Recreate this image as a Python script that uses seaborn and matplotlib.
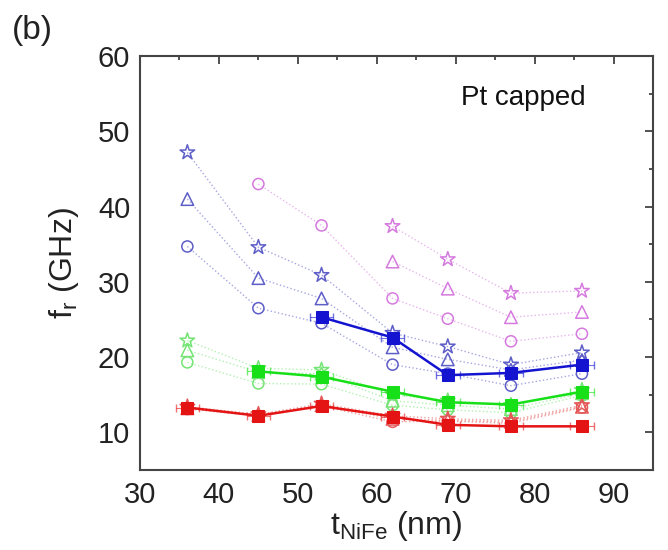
import matplotlib
matplotlib.use("Agg")
import matplotlib.pyplot as plt
import seaborn as sns
import pandas as pd
from matplotlib.ticker import MultipleLocator

sns.set_theme(style="white")
plt.rcParams['font.family'] = ['Liberation Sans', 'DejaVu Sans']

# ---- data ----
x_all = [36, 45, 53, 62, 69, 77, 86]
x_pink = [45, 53, 62, 69, 77, 86]
x_pink2 = [62, 69, 77, 86]
x_blue_solid = [53, 62, 69, 77, 86]
x_green_solid = [45, 53, 62, 69, 77, 86]

blue_star = [47.2, 34.6, 30.9, 23.2, 21.4, 19.0, 20.6]
blue_tri = [41.0, 30.5, 27.8, 21.3, 19.7, 18.3, 19.6]
blue_circ = [34.7, 26.5, 24.5, 19.0, 17.8, 16.2, 17.8]

pink_circ = [43.0, 37.5, 27.8, 25.1, 22.1, 23.1]
pink_star = [37.4, 33.0, 28.5, 28.8]
pink_tri = [32.7, 29.1, 25.3, 26.0]

green_star = [22.2, 18.5, 18.3, 15.0, 14.2, 13.6, 15.6]
green_tri = [20.9, 18.0, 17.8, 14.2, 13.6, 13.1, 15.2]
green_circ = [19.3, 16.5, 16.4, 13.6, 13.0, 12.6, 14.9]

red_star = [13.4, 12.4, 13.8, 12.2, 11.8, 11.6, 13.6]
red_tri = [13.2, 12.3, 13.6, 11.8, 11.6, 11.4, 13.4]
red_circ = [13.1, 12.2, 13.5, 11.4, 11.5, 11.2, 13.3]

blue_solid = [25.3, 22.6, 17.6, 17.9, 19.0]
green_solid = [18.1, 17.4, 15.4, 14.0, 13.7, 15.4]
red_solid = [13.3, 12.2, 13.5, 12.1, 11.0, 10.8, 10.8]
x_err = 1.5

fig = plt.figure(figsize=(6.68, 5.5), dpi=100)
ax = fig.add_axes([0.2096, 0.1455, 0.7679, 0.7525])

c_blue_l = '#5e5ec8'
c_pink = '#d57ade'
c_green_l = '#74e474'
c_red_l = '#e45858'
c_blue = '#1414d0'
c_green = '#18e018'
c_red = '#e41414'

def open_series(xs, ys, color, marker, ms):
    df = pd.DataFrame({'x': xs, 'y': ys})
    sns.lineplot(data=df, x='x', y='y', ax=ax, color=color, linestyle=':',
                 linewidth=1.0, alpha=0.55, sort=False)
    sns.scatterplot(data=df, x='x', y='y', ax=ax, marker=marker, s=ms ** 2,
                    facecolor='none', edgecolor=color, linewidth=1.1, zorder=3)

for ys, m, ms in [(blue_star, '*', 11), (blue_tri, '^', 9), (blue_circ, 'o', 8)]:
    open_series(x_all, ys, c_blue_l, m, ms)
open_series(x_pink, pink_circ, c_pink, 'o', 8)
open_series(x_pink2, pink_star, c_pink, '*', 11)
open_series(x_pink2, pink_tri, c_pink, '^', 9)
for ys, m, ms in [(green_star, '*', 11), (green_tri, '^', 9), (green_circ, 'o', 8)]:
    open_series(x_all, ys, c_green_l, m, ms)
for ys, m, ms in [(red_star, '*', 11), (red_tri, '^', 9), (red_circ, 'o', 8)]:
    open_series(x_all, ys, c_red_l, m, ms)

def solid_series(xs, ys, color):
    df = pd.DataFrame({'x': xs, 'y': ys})
    ax.errorbar(xs, ys, xerr=x_err, fmt='none', ecolor=color, elinewidth=0.8,
                capsize=3, alpha=0.6, zorder=4)
    sns.lineplot(data=df, x='x', y='y', ax=ax, color=color, linewidth=1.8,
                 marker='s', markersize=8, markeredgecolor=color, sort=False,
                 zorder=5)

solid_series(x_blue_solid, blue_solid, c_blue)
solid_series(x_green_solid, green_solid, c_green)
solid_series(x_all, red_solid, c_red)

ax.set_xlim(30, 95)
ax.set_ylim(5, 60)
ax.xaxis.set_minor_locator(MultipleLocator(5))
ax.yaxis.set_minor_locator(MultipleLocator(5))
ax.set_xticks([30, 40, 50, 60, 70, 80, 90])
ax.set_yticks([10, 20, 30, 40, 50, 60])
ax.tick_params(which='both', direction='in', top=True, right=True,
               labeltop=False, labelright=False, color='#333333', width=1.2)
ax.tick_params(which='major', length=6, labelsize=21, labelcolor='#222222')
ax.tick_params(axis='y', which='major', pad=7)
ax.tick_params(axis='x', which='major', pad=8)
ax.tick_params(which='minor', length=3)
for s in ax.spines.values():
    s.set_color('#444444')
    s.set_linewidth(1.5)

ax.set_xlabel(r'$\mathregular{t_{NiFe}}$ (nm)', fontsize=23, color='#222222', labelpad=0)
ax.set_ylabel(r'$\mathregular{f_r}$ (GHz)', fontsize=23, color='#222222', labelpad=12)
ax.text(0.747, 0.899, 'Pt capped', transform=ax.transAxes, ha='center', va='center',
        fontsize=20, color='#111111')
fig.text(0.018, 0.945, '(b)', fontsize=24, color='#222222', ha='left', va='center')

fig.savefig('out.png', dpi=100)
